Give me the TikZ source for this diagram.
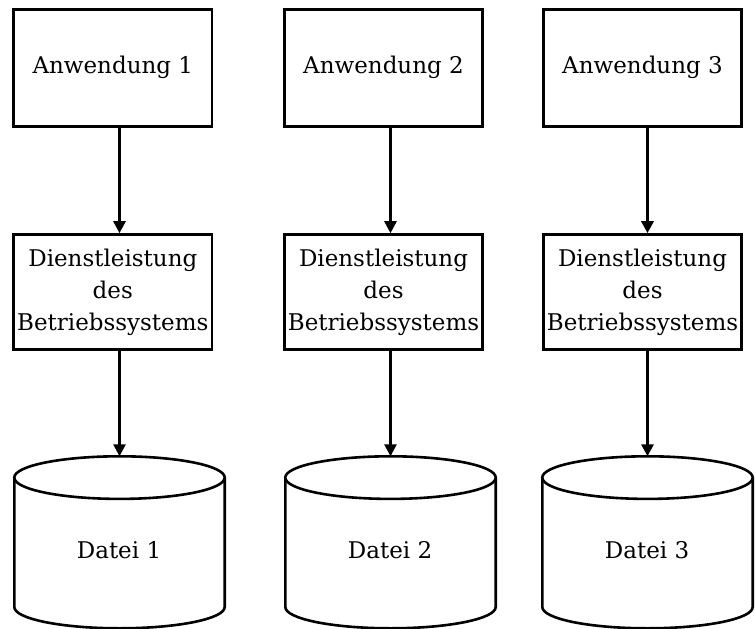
\documentclass[tikz,border=0pt]{standalone}
\usepackage{fontspec}
\setmainfont{DejaVu Serif}
\usetikzlibrary{arrows.meta}
\begin{document}
\begin{tikzpicture}[x=1pt,y=-1pt,
  boxline/.style={line width=2.6pt},
  appbox/.style={draw, boxline, minimum width=198.5pt, minimum height=117pt,
    inner sep=0pt, align=center, font=\fontsize{23}{32}\selectfont},
  svcbox/.style={appbox, minimum height=115pt},
  lbl/.style={inner sep=0pt, font=\fontsize{23}{32}\selectfont},
  flow/.style={-{Triangle[length=12pt,width=12pt]}, line width=2.6pt},
  heavyflow/.style={flow, line width=3.6pt},
  drum/.style={boxline, fill=white}]
\useasboundingbox (0,0) rectangle (755,629);

% application boxes
\node[appbox] (a1) at (112.8,67.8) {Anwendung 1};
\node[appbox] (a2) at (383.5,67.8) {Anwendung 2};
\node[appbox] (a3) at (642.5,67.8) {Anwendung 3};

% operating system service boxes
\node[svcbox] (s1) at (112.8,292) {Dienstleistung\\des\\Betriebssystems};
\node[svcbox] (s2) at (383.5,292) {Dienstleistung\\des\\Betriebssystems};
\node[svcbox] (s3) at (642.5,292) {Dienstleistung\\des\\Betriebssystems};

% file drums: top point of each lid
\coordinate (t1) at (119.5,456.3);
\coordinate (t2) at (390.5,456.3);
\coordinate (t3) at (647.5,456.3);

\foreach \c in {t1,t2,t3}{
  \draw[drum] ([xshift=-105.2pt,yshift=-21.3pt]\c) -- ++(0,129.4)
    arc[start angle=180, end angle=360, x radius=105.2pt, y radius=21.3pt]
    -- ++(0,-129.4);
  \draw[drum] ([yshift=-21.3pt]\c) ellipse[x radius=105.2pt, y radius=21.3pt];
}

\node[lbl] (d1) at (119,550) {Datei 1};
\node[lbl] (d2) at (390,550) {Datei 2};
\node[lbl] (d3) at (647,550) {Datei 3};

% connectors
\draw[flow] (a1.south -| t1) -- (s1.north -| t1);
\draw[flow] (a2.south -| t2) -- (s2.north -| t2);
\draw[heavyflow] (a3.south -| t3) -- (s3.north -| t3);
\draw[flow] (s1.south -| t1) -- (t1);
\draw[flow] (s2.south -| t2) -- (t2);
\draw[heavyflow] (s3.south -| t3) -- (t3);
\end{tikzpicture}
\end{document}
